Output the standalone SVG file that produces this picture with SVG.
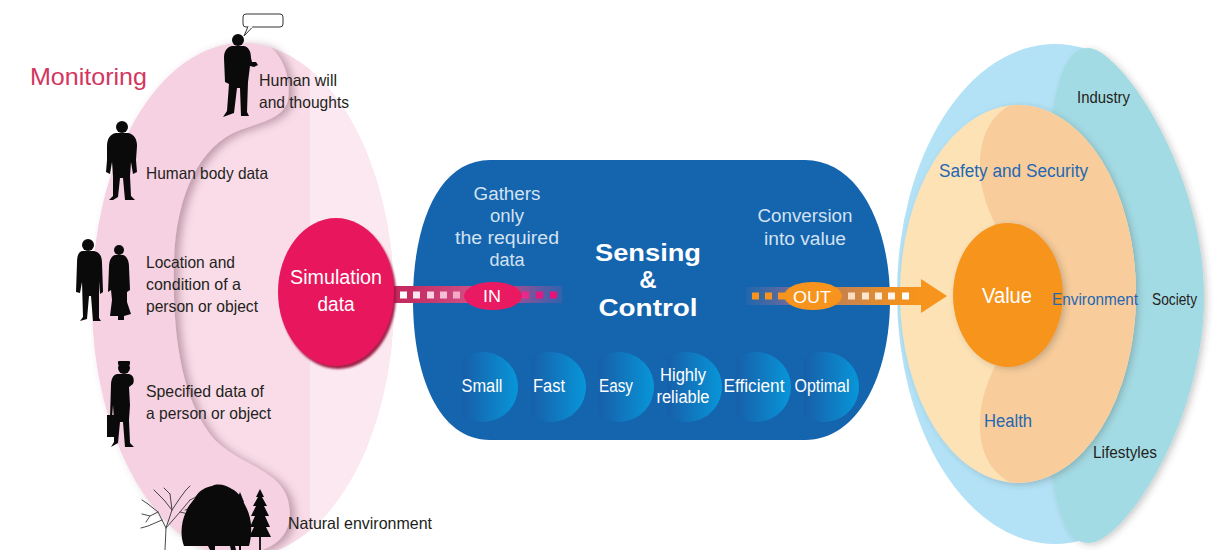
<svg xmlns="http://www.w3.org/2000/svg" width="1224" height="550" viewBox="0 0 1224 550">
  <style>
    .n { font-family: "Liberation Sans Narrow", "Liberation Sans", Arial, sans-serif; }
    .r { font-family: "Liberation Sans", Arial, sans-serif; }
    .dark { fill: #231f20; }
    .blu { fill: #2468b2; }
    .wht { fill: #ffffff; }
    .lite { fill: #d3e2f2; }
    .sil { fill: #0a0a0a; }
  </style>
  <defs>
    <clipPath id="monClip">
      <ellipse cx="243" cy="300" rx="151" ry="257"/>
    </clipPath>
    <clipPath id="monRight">
      <rect x="310" y="0" width="120" height="550"/>
    </clipPath>
    <clipPath id="peachClip">
      <ellipse cx="1018" cy="294" rx="118" ry="189"/>
    </clipPath>
    <clipPath id="skyClip">
      <rect x="880" y="0" width="208" height="550"/>
    </clipPath>
    <filter id="foldShadow" x="-20%" y="-10%" width="140%" height="120%">
      <feDropShadow dx="5" dy="2" stdDeviation="4" flood-color="#7a4a5e" flood-opacity="0.45"/>
    </filter>
    <filter id="rim" x="-20%" y="-20%" width="140%" height="140%">
      <feDropShadow dx="2" dy="3" stdDeviation="1.2" flood-color="#9c1540" flood-opacity="0.95"/>
    </filter>
    <filter id="soft" x="-20%" y="-20%" width="140%" height="140%">
      <feDropShadow dx="3" dy="2" stdDeviation="3" flood-color="#3a3a3a" flood-opacity="0.25"/>
    </filter>
    <linearGradient id="pill" x1="0" y1="0" x2="1" y2="0">
      <stop offset="0" stop-color="#175fa9"/>
      <stop offset="1" stop-color="#0896d9"/>
    </linearGradient>
    <linearGradient id="inBand" gradientUnits="userSpaceOnUse" x1="390" y1="0" x2="562" y2="0">
      <stop offset="0" stop-color="#c4285c"/>
      <stop offset="0.14" stop-color="#c52e63"/>
      <stop offset="0.45" stop-color="#cf4d84"/>
      <stop offset="0.7" stop-color="#b0498a"/>
      <stop offset="1" stop-color="#7d5ca6" stop-opacity="0.3"/>
    </linearGradient>
    <linearGradient id="outBand" gradientUnits="userSpaceOnUse" x1="746" y1="0" x2="922" y2="0">
      <stop offset="0" stop-color="#6a70a0" stop-opacity="0.15"/>
      <stop offset="0.2" stop-color="#7a6c98" stop-opacity="0.7"/>
      <stop offset="0.4" stop-color="#c17c52"/>
      <stop offset="0.62" stop-color="#cd8648"/>
      <stop offset="0.85" stop-color="#f0901f"/>
      <stop offset="1" stop-color="#f7941d"/>
    </linearGradient>
  </defs>

  <rect width="1224" height="550" fill="#ffffff"/>

  <!-- Monitoring: pink field with folded band -->
  <g id="monitoring">
    <ellipse cx="243" cy="300" rx="151" ry="257" fill="#f9dce8"/>
    <ellipse cx="243" cy="300" rx="151" ry="257" fill="#fce8f0" clip-path="url(#monRight)"/>
    <g filter="url(#foldShadow)">
      <path clip-path="url(#monClip)" fill="#f6d1e1"
            d="M 255 40 C 280 45 292 75 288 100 C 284 118 262 122 240 130 C 200 145 176 195 174 260 C 172 330 180 400 215 440 C 240 465 280 470 288 500 C 294 525 285 545 255 552 L 0 552 L 0 40 Z"/>
    </g>
    <text class="r" x="30" y="85" font-size="24" fill="#d3365f" textLength="117" lengthAdjust="spacingAndGlyphs">Monitoring</text>
  </g>

  <!-- Human will and thoughts -->
  <g id="will">
    <rect x="243" y="14" width="40" height="13" rx="3" fill="#ffffff" stroke="#333" stroke-width="1"/>
    <path d="M 248 26.5 L 244 36 L 253 26.5" fill="#ffffff" stroke="#333" stroke-width="1"/>
    <line x1="248.5" y1="27" x2="252.5" y2="27" stroke="#ffffff" stroke-width="1.5"/>
    <circle class="sil" cx="238" cy="40" r="6"/>
    <path class="sil" d="M 232 46 L 244 46 C 249 47 251 52 251 58 L 252 62 L 256 62 L 258 65 L 254 67 L 250 66 L 248 82 L 247 112 L 249 116 L 241 116 L 240 88 L 237 88 L 234 113 L 223 117 L 227 111 L 229 84 L 225 82 L 224 58 C 224 51 227 47 232 46 Z"/>
    <text class="n dark" x="259" y="86" font-size="16.5" textLength="78" lengthAdjust="spacingAndGlyphs">Human will</text>
    <text class="n dark" x="259" y="108" font-size="16.5" textLength="90" lengthAdjust="spacingAndGlyphs">and thoughts</text>
  </g>

  <!-- Human body data -->
  <g id="body">
    <circle class="sil" cx="122" cy="127" r="6"/>
    <path class="sil" d="M 116 133 L 128 133 C 134 134 137 139 137 146 L 136 160 L 137 172 L 133 174 L 131 162 L 130 176 L 131 196 L 135 200 L 125 200 L 123 178 L 120 178 L 118 197 L 113 200 L 109 200 L 113 196 L 113 176 L 112 162 L 110 174 L 106 172 L 107 160 L 107 146 C 107 139 110 134 116 133 Z"/>
    <text class="n dark" x="146" y="179" font-size="16.5" textLength="122" lengthAdjust="spacingAndGlyphs">Human body data</text>
  </g>

  <!-- Location and condition -->
  <g id="location">
    <circle class="sil" cx="88" cy="245" r="6"/>
    <path class="sil" d="M 82 251 L 94 251 C 100 252 102 257 102 263 L 103 292 L 100 294 L 99 281 L 99 318 L 101 321 L 93 321 L 91 296 L 89 296 L 87 319 L 80 321 L 83 317 L 82 282 L 80 293 L 76 292 L 77 263 C 77 257 78 252 82 251 Z"/>
    <circle class="sil" cx="119" cy="250" r="5"/>
    <path class="sil" d="M 115 255 L 123 255 C 127 256 129 261 129 267 L 130 290 L 127 292 L 127 302 L 131 314 L 124 316 L 124 320 L 118 320 L 118 316 L 110 316 L 112 300 L 111 290 L 108 292 L 109 267 C 109 261 111 256 115 255 Z"/>
    <text class="n dark" x="146" y="268" font-size="16.5" textLength="89" lengthAdjust="spacingAndGlyphs">Location and</text>
    <text class="n dark" x="146" y="290" font-size="16.5" textLength="95" lengthAdjust="spacingAndGlyphs">condition of a</text>
    <text class="n dark" x="146" y="312" font-size="16.5" textLength="112" lengthAdjust="spacingAndGlyphs">person or object</text>
  </g>

  <!-- Specified data -->
  <g id="specified">
    <rect class="sil" x="118" y="361" width="12" height="4" rx="1"/>
    <circle class="sil" cx="124" cy="368" r="6"/>
    <path class="sil" d="M 117 374 L 129 374 C 133 375 135 379 133 384 L 129 387 L 130 405 L 129 420 L 130 443 L 134 447 L 125 447 L 123 422 L 120 422 L 118 443 L 111 447 L 114 442 L 114 420 L 113 405 L 112 418 L 110 418 L 111 385 C 111 379 113 375 117 374 Z"/>
    <rect class="sil" x="107" y="415" width="8" height="22"/>
    <text class="n dark" x="146" y="397" font-size="16.5" textLength="118" lengthAdjust="spacingAndGlyphs">Specified data of</text>
    <text class="n dark" x="146" y="419" font-size="16.5" textLength="125" lengthAdjust="spacingAndGlyphs">a person or object</text>
  </g>

  <!-- Natural environment -->
  <g id="nature">
    <g stroke="#2a2a2a" stroke-width="1" fill="none" stroke-linecap="round" opacity="0.85">
      <path d="M 165 550 L 166 528 L 158 512 L 148 504"/>
      <path d="M 166 528 L 172 510 L 170 494"/>
      <path d="M 166 528 L 180 512 L 190 500"/>
      <path d="M 158 512 L 150 516 L 142 514"/>
      <path d="M 172 510 L 180 498 L 186 490"/>
      <path d="M 170 494 L 164 488"/>
      <path d="M 148 504 L 142 500"/>
      <path d="M 180 512 L 196 516"/>
      <path d="M 162 520 L 148 526 L 141 528"/>
      <path d="M 150 516 L 146 522"/>
      <path d="M 172 510 L 164 500 L 158 494"/>
      <path d="M 190 500 L 198 496"/>
      <path d="M 185 510 L 200 506"/>
      <path d="M 158 494 L 154 490"/>
      <path d="M 186 490 L 190 486"/>
    </g>
    <path class="sil" d="M 184 546 C 180 536 181 522 186 512 C 188 505 193 502 196 496 C 200 490 206 487 212 486 C 218 483 226 485 232 489 C 238 492 242 498 245 505 C 249 512 252 522 251 532 C 251 538 250 542 249 546 Z"/>
    <path class="sil" d="M 208 546 L 210 550 L 215 550 L 215 546 Z M 230 546 L 231 550 L 236 550 L 235 546 Z"/>
    <polygon class="sil" points="240,492 244,502 242,502 246,512 243,512 248,525 245,525 249,540 231,540 235,525 232,525 237,512 234,512 238,502 236,502"/>
    <line x1="240" y1="538" x2="240" y2="550" stroke="#0a0a0a" stroke-width="2"/>
    <polygon class="sil" points="260,489 264,497 262,497 267,506 264,506 269,516 265,516 270,527 266,527 271,537 249,537 254,527 250,527 255,516 251,516 256,506 253,506 258,497 256,497"/>
    <line x1="260" y1="535" x2="260" y2="550" stroke="#0a0a0a" stroke-width="1.8"/>
    <text class="n dark" x="288" y="529" font-size="16.5" textLength="144" lengthAdjust="spacingAndGlyphs">Natural environment</text>
  </g>

  <!-- Sensing and control body -->
  <g id="sensing">
    <path fill="#1464ae" d="M 490 160 H 805 C 858 160 890 225 890 300 C 890 375 858 440 805 440 H 490 C 438 440 413 375 413 300 C 413 225 438 160 490 160 Z"/>
    <text class="r lite" x="507" y="200" font-size="18" text-anchor="middle" textLength="67" lengthAdjust="spacingAndGlyphs">Gathers</text>
    <text class="r lite" x="507" y="222" font-size="18" text-anchor="middle" textLength="34" lengthAdjust="spacingAndGlyphs">only</text>
    <text class="r lite" x="507" y="244" font-size="18" text-anchor="middle" textLength="104" lengthAdjust="spacingAndGlyphs">the required</text>
    <text class="r lite" x="507" y="266" font-size="18" text-anchor="middle" textLength="35" lengthAdjust="spacingAndGlyphs">data</text>
    <text class="r lite" x="805" y="222" font-size="18" text-anchor="middle" textLength="95" lengthAdjust="spacingAndGlyphs">Conversion</text>
    <text class="r lite" x="805" y="245" font-size="18" text-anchor="middle" textLength="82" lengthAdjust="spacingAndGlyphs">into value</text>
    <text class="r wht" x="648" y="261" font-size="24.5" font-weight="bold" text-anchor="middle" textLength="106" lengthAdjust="spacingAndGlyphs">Sensing</text>
    <text class="r wht" x="648" y="288" font-size="24" font-weight="bold" text-anchor="middle">&amp;</text>
    <text class="r wht" x="648" y="316" font-size="24.5" font-weight="bold" text-anchor="middle" textLength="99" lengthAdjust="spacingAndGlyphs">Control</text>
  </g>

  <!-- Feature badges -->
  <g id="features">
    <path fill="url(#pill)" d="M 463 358.3 A 35 35 0 1 1 463 415.7 Z"/>
    <path fill="url(#pill)" d="M 531 358.3 A 35 35 0 1 1 531 415.7 Z"/>
    <path fill="url(#pill)" d="M 599 358.3 A 35 35 0 1 1 599 415.7 Z"/>
    <path fill="url(#pill)" d="M 667 358.3 A 35 35 0 1 1 667 415.7 Z"/>
    <path fill="url(#pill)" d="M 736 358.3 A 35 35 0 1 1 736 415.7 Z"/>
    <path fill="url(#pill)" d="M 804 358.3 A 35 35 0 1 1 804 415.7 Z"/>
    <text class="n wht" x="482" y="392" font-size="17.5" text-anchor="middle" textLength="41" lengthAdjust="spacingAndGlyphs">Small</text>
    <text class="n wht" x="549" y="392" font-size="17.5" text-anchor="middle" textLength="32" lengthAdjust="spacingAndGlyphs">Fast</text>
    <text class="n wht" x="616" y="392" font-size="17.5" text-anchor="middle" textLength="34" lengthAdjust="spacingAndGlyphs">Easy</text>
    <text class="n wht" x="683" y="381" font-size="17.5" text-anchor="middle" textLength="46" lengthAdjust="spacingAndGlyphs">Highly</text>
    <text class="n wht" x="683" y="403" font-size="17.5" text-anchor="middle" textLength="53" lengthAdjust="spacingAndGlyphs">reliable</text>
    <text class="n wht" x="754" y="392" font-size="17.5" text-anchor="middle" textLength="61" lengthAdjust="spacingAndGlyphs">Efficient</text>
    <text class="n wht" x="822" y="392" font-size="17.5" text-anchor="middle" textLength="55" lengthAdjust="spacingAndGlyphs">Optimal</text>
  </g>

  <!-- Value rings -->
  <g id="value">
    <ellipse cx="1055" cy="294" rx="158" ry="250" fill="#b3e2f6" clip-path="url(#skyClip)"/>
    <path fill="#a3dbe4" filter="url(#soft)" d="M 1088 48 C 1120 48 1204 170 1204 297 C 1204 420 1125 543 1088 543 C 1056 543 1043 470 1043 295 C 1043 120 1056 48 1088 48 Z"/>
    <g filter="url(#soft)">
      <ellipse cx="1018" cy="294" rx="118" ry="189" fill="#fde2b6"/>
    </g>
    <path clip-path="url(#peachClip)" fill="#f9cd9b" d="M 1025 100 C 1000 105 982 125 980 160 C 979 190 988 210 998 230 L 998 360 C 988 380 979 400 980 430 C 982 465 1000 480 1025 490 L 1150 490 L 1150 100 Z"/>
    <ellipse cx="1008" cy="295" rx="55" ry="72" fill="#f6941f" filter="url(#soft)"/>
    <text class="n wht" x="1007" y="303" font-size="22" text-anchor="middle" textLength="50" lengthAdjust="spacingAndGlyphs">Value</text>
    <text class="n dark" x="1077" y="103" font-size="17" textLength="53" lengthAdjust="spacingAndGlyphs">Industry</text>
    <text class="n blu" x="939" y="177" font-size="18" textLength="149" lengthAdjust="spacingAndGlyphs">Safety and Security</text>
    <text class="n blu" x="1052" y="305" font-size="17" textLength="86" lengthAdjust="spacingAndGlyphs">Environment</text>
    <text class="n dark" x="1152" y="305" font-size="17" textLength="45" lengthAdjust="spacingAndGlyphs">Society</text>
    <text class="n blu" x="984" y="427" font-size="18" textLength="48" lengthAdjust="spacingAndGlyphs">Health</text>
    <text class="n dark" x="1093" y="458" font-size="17" textLength="64" lengthAdjust="spacingAndGlyphs">Lifestyles</text>
  </g>

  <!-- Connectors: data in, value out -->
  <g id="connectors">
    <rect x="380" y="286" width="182" height="17" fill="url(#inBand)"/>
    <rect x="400" y="291.5" width="7" height="7" fill="#ffffff"/>
    <rect x="413" y="291.5" width="7" height="7" fill="#fde6ef"/>
    <rect x="427" y="291.5" width="7" height="7" fill="#fad2e2"/>
    <rect x="440" y="291.5" width="7" height="7" fill="#f7bdd4"/>
    <rect x="453" y="291.5" width="7" height="7" fill="#f4aac7"/>
    <rect x="522" y="291.5" width="7" height="7" fill="#e8288a"/>
    <rect x="536" y="291.5" width="7" height="7" fill="#e8167f"/>
    <rect x="550" y="291.5" width="7" height="7" fill="#ea107a"/>
    <ellipse cx="493" cy="296" rx="29" ry="14" fill="#ea1a62"/>
    <text class="n wht" x="492" y="302" font-size="17" text-anchor="middle" textLength="18" lengthAdjust="spacingAndGlyphs">IN</text>

    <rect x="746" y="287" width="177" height="18" fill="url(#outBand)"/>
    <polygon points="921,279 947,296 921,313" fill="#f7941d"/>
    <rect x="752" y="292.5" width="7" height="7" fill="#f7941d"/>
    <rect x="765" y="292.5" width="7" height="7" fill="#f7941d"/>
    <rect x="778" y="292.5" width="7" height="7" fill="#f7941d"/>
    <rect x="848" y="292.5" width="7" height="7" fill="#fcdcbd"/>
    <rect x="862" y="292.5" width="7" height="7" fill="#fde6d0"/>
    <rect x="875" y="292.5" width="7" height="7" fill="#feefe1"/>
    <rect x="888" y="292.5" width="7" height="7" fill="#fff6ee"/>
    <rect x="902" y="292.5" width="7" height="7" fill="#ffffff"/>
    <ellipse cx="813" cy="296" rx="29" ry="14" fill="#f7941d"/>
    <text class="n wht" x="812" y="303" font-size="17" text-anchor="middle" textLength="38" lengthAdjust="spacingAndGlyphs">OUT</text>
  </g>

  <!-- Simulation data source -->
  <g id="simulation">
    <ellipse cx="336" cy="292" rx="58" ry="74" fill="#e8175d" filter="url(#rim)"/>
    <text class="n wht" x="336" y="284" font-size="19.5" text-anchor="middle" textLength="92" lengthAdjust="spacingAndGlyphs">Simulation</text>
    <text class="n wht" x="336" y="311" font-size="19.5" text-anchor="middle" textLength="37" lengthAdjust="spacingAndGlyphs">data</text>
  </g>
</svg>
